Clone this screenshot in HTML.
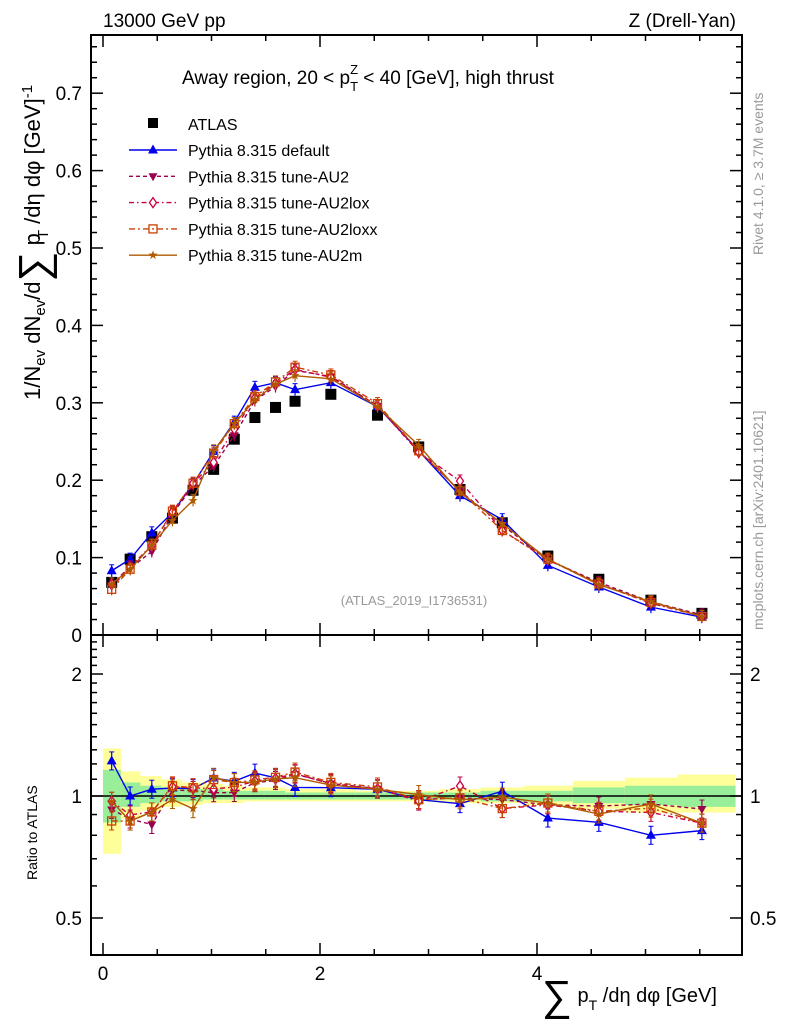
<!DOCTYPE html>
<html><head><meta charset="utf-8"><style>
body{margin:0;background:#fff}
svg{font-family:"Liberation Sans",sans-serif}
</style></head><body>
<svg id="c" width="786" height="1024" viewBox="0 0 786 1024" xmlns="http://www.w3.org/2000/svg">
<g id="bands"></g>
<g id="axes"></g>
<g id="series"></g>
<text x="103" y="27" font-size="19">13000 GeV pp</text>
<text x="736" y="27" font-size="19" text-anchor="end">Z (Drell-Yan)</text>
<text x="182" y="84" font-size="19">Away region, 20 &lt; p<tspan font-size="13" dy="7">T</tspan><tspan font-size="13" dx="-8" dy="-17">Z</tspan><tspan dy="10"> &lt; 40 [GeV], high thrust</tspan></text>
<text x="414" y="605" font-size="13" fill="#999" text-anchor="middle">(ATLAS_2019_I1736531)</text>
<text transform="translate(763,255) rotate(-90)" font-size="14" fill="#999">Rivet 4.1.0, ≥ 3.7M events</text>
<text transform="translate(763,630) rotate(-90)" font-size="14" fill="#999">mcplots.cern.ch [arXiv:2401.10621]</text>
<text transform="translate(40,400) rotate(-90)" font-size="22">1/N<tspan font-size="15" dy="5">ev</tspan><tspan dy="-5"> dN</tspan><tspan font-size="15" dy="5">ev</tspan><tspan dy="-5">/d</tspan><tspan font-size="42" dy="8">∑</tspan><tspan dy="-8"> p</tspan><tspan font-size="15" dy="8" dx="-6">T</tspan><tspan dy="-8"> /dη dφ  [GeV]</tspan><tspan font-size="15" dy="-8">-1</tspan></text>
<text transform="translate(37,880) rotate(-90)" font-size="14">Ratio to ATLAS</text>
<text x="542" y="1002" font-size="20"><tspan font-size="42" dy="8">∑</tspan><tspan dy="-8"> p</tspan><tspan font-size="14" dy="8">T</tspan><tspan dy="-8"> /dη dφ [GeV]</tspan></text>
<g id="legend"></g>
</svg>
<script>
const binEdges=[0.0,0.165,0.345,0.54,0.73,0.92,1.11,1.30,1.49,1.68,1.87,2.33,2.73,3.10,3.48,3.88,4.33,4.81,5.29,5.83];
const xCenters=[0.08,0.25,0.45,0.64,0.83,1.02,1.21,1.40,1.59,1.77,2.10,2.53,2.91,3.29,3.68,4.10,4.57,5.05,5.52];
const atlas=[0.068,0.098,0.127,0.151,0.187,0.214,0.253,0.281,0.294,0.302,0.311,0.284,0.243,0.188,0.145,0.102,0.072,0.045,0.028];
const pyDefault=[0.083,0.098,0.132,0.158,0.195,0.237,0.275,0.320,0.326,0.317,0.326,0.295,0.238,0.180,0.149,0.090,0.062,0.036,0.023];
const pyAU2=[0.063,0.086,0.108,0.156,0.193,0.218,0.258,0.303,0.321,0.342,0.334,0.296,0.238,0.186,0.142,0.097,0.068,0.043,0.026];
const pyAU2lox=[0.066,0.088,0.116,0.159,0.196,0.223,0.266,0.306,0.325,0.343,0.333,0.296,0.236,0.199,0.135,0.097,0.066,0.041,0.024];
const pyAU2loxx=[0.059,0.085,0.116,0.160,0.196,0.235,0.273,0.308,0.327,0.346,0.336,0.299,0.238,0.186,0.135,0.098,0.066,0.042,0.024];
const pyAU2m=[0.066,0.085,0.116,0.148,0.174,0.238,0.273,0.304,0.324,0.335,0.331,0.295,0.245,0.184,0.144,0.098,0.065,0.043,0.024];
const yellowHi=[1.31,1.15,1.12,1.10,1.08,1.07,1.06,1.05,1.05,1.04,1.04,1.03,1.03,1.04,1.05,1.06,1.09,1.11,1.13];
const yellowLo=[0.72,0.88,0.92,0.94,0.95,0.96,0.96,0.97,0.97,0.97,0.97,0.97,0.97,0.96,0.96,0.95,0.93,0.91,0.91];
const greenHi=[1.16,1.08,1.06,1.05,1.04,1.04,1.03,1.03,1.03,1.02,1.02,1.02,1.02,1.02,1.03,1.03,1.05,1.06,1.06];
const greenLo=[0.86,0.94,0.96,0.97,0.97,0.98,0.98,0.98,0.98,0.98,0.98,0.98,0.98,0.98,0.97,0.97,0.96,0.95,0.94];
const xTicks=["0","2","4"];
const yTicks=["0","0.1","0.2","0.3","0.4","0.5","0.6","0.7"];
const rTicks=["0.5","1","2"];

const NS="http://www.w3.org/2000/svg";
const L=91,R=742,T=35,MB=635,RB=955;
const X=v=>103+v*108.5;
const Y=v=>MB-v*774;
const RY=v=>796-Math.log2(v)*122;
function mk(p,tag,at){const e=document.createElementNS(NS,tag);for(const k in at)e.setAttribute(k,at[k]);p.appendChild(e);return e;}
const bands=document.getElementById('bands'),axes=document.getElementById('axes'),ser=document.getElementById('series'),leg=document.getElementById('legend');

for(let i=0;i<xCenters.length;i++){
 const x0=X(binEdges[i]),x1=X(binEdges[i+1]);
 let r=mk(bands,'rect',{x:x0,y:RY(yellowHi[i]),width:x1-x0,height:RY(yellowLo[i])-RY(yellowHi[i]),fill:'#ffff99'});
 
 
 r=mk(bands,'rect',{x:x0,y:RY(greenHi[i]),width:x1-x0,height:RY(greenLo[i])-RY(greenHi[i]),fill:'#99ee99'});
 
 
}
mk(axes,'rect',{x:L,y:T,width:R-L,height:MB-T,fill:'none',stroke:'#000','stroke-width':2});
mk(axes,'rect',{x:L,y:MB,width:R-L,height:RB-MB,fill:'none',stroke:'#000','stroke-width':2});
mk(axes,'line',{x1:L,x2:R,y1:796,y2:796,stroke:'#000','stroke-width':1.5});
for(let v=0;v<=5.5;v+=0.5){const major=Math.abs(v%2)<1e-6;const x=X(v);
 mk(axes,'line',{x1:x,x2:x,y1:MB,y2:MB-(major?12:6),stroke:'#000','stroke-width':1.5});
 mk(axes,'line',{x1:x,x2:x,y1:RB,y2:RB-(major?12:6),stroke:'#000','stroke-width':1.5});
 mk(axes,'line',{x1:x,x2:x,y1:T,y2:T+(major?12:6),stroke:'#000','stroke-width':1.5});
 mk(axes,'line',{x1:x,x2:x,y1:MB,y2:MB+(major?12:6),stroke:'#000','stroke-width':1.5});
}
xTicks.forEach((t,i)=>{const e=mk(axes,'text',{x:X(+t),y:980,'font-size':19,'text-anchor':'middle'});e.textContent=t;
 
 });
for(let k=0;k<=38;k++){const v=k*0.02,y=Y(v);if(y<T)break;const major=k%5==0;
 mk(axes,'line',{x1:L,x2:L+(major?12:6),y1:y,y2:y,stroke:'#000','stroke-width':1.5});
 mk(axes,'line',{x1:R,x2:R-(major?12:6),y1:y,y2:y,stroke:'#000','stroke-width':1.5});}
yTicks.forEach(t=>{const e=mk(axes,'text',{x:82,y:Y(+t)+7,'font-size':19,'text-anchor':'end'});e.textContent=t;
 
 });
for(let k=5;k<=25;k++){const v=k/10,y=RY(v);const major=(k==5||k==10||k==20);
 mk(axes,'line',{x1:L,x2:L+(major?12:6),y1:y,y2:y,stroke:'#000','stroke-width':1.5});
 mk(axes,'line',{x1:R,x2:R-(major?12:6),y1:y,y2:y,stroke:'#000','stroke-width':1.5});}
rTicks.forEach(t=>{for(const [xx,an] of [[82,'end'],[750,'start']]){const e=mk(axes,'text',{x:xx,y:RY(+t)+7,'font-size':19,'text-anchor':an});e.textContent=t;
 
 }});

function marker(g,type,x,y,c){
 const s=5.5;
 if(type=='sq')return mk(g,'rect',{x:x-s,y:y-s,width:2*s,height:2*s,fill:'#000'});
 if(type=='tri')return mk(g,'polygon',{points:`${x},${y-5.5} ${x-5},${y+3.5} ${x+5},${y+3.5}`,fill:c});
 if(type=='itri')return mk(g,'polygon',{points:`${x},${y+5} ${x-4.5},${y-3} ${x+4.5},${y-3}`,fill:c});
 if(type=='dia')return mk(g,'polygon',{points:`${x},${y-5} ${x+3.5},${y} ${x},${y+5} ${x-3.5},${y}`,fill:'#fff',stroke:c,'stroke-width':1.3});
 if(type=='osq')return mk(g,'rect',{x:x-4,y:y-4,width:8,height:8,fill:'none',stroke:c,'stroke-width':1.3});
 if(type=='star')return mk(g,'text',{x:x,y:y+4,'font-size':12,'text-anchor':'middle',fill:c}).textContent='★';
}
const defs=[
 {name:'Pythia 8.315 default',d:pyDefault,c:'#0000ee',dash:'',m:'tri',key:'default'},
 {name:'Pythia 8.315 tune-AU2',d:pyAU2,c:'#990050',dash:'4,3',m:'itri',key:'au2'},
 {name:'Pythia 8.315 tune-AU2lox',d:pyAU2lox,c:'#cc0040',dash:'5,3,1.5,3',m:'dia',key:'au2lox'},
 {name:'Pythia 8.315 tune-AU2loxx',d:pyAU2loxx,c:'#cc4000',dash:'6,3,2,3',m:'osq',key:'au2loxx'},
 {name:'Pythia 8.315 tune-AU2m',d:pyAU2m,c:'#b05a00',dash:'',m:'star',key:'au2m'}];
const ga=mk(ser,'g',{});


atlas.forEach((v,i)=>{const p=marker(ga,'sq',X(xCenters[i]),Y(v));
 
 });
defs.forEach(s=>{
 const g=mk(ser,'g',{});
 
 
 const pm=s.d.map((v,i)=>X(xCenters[i])+','+Y(v)).join(' ');
 const pr=s.d.map((v,i)=>X(xCenters[i])+','+RY(v/atlas[i])).join(' ');
 const l1=mk(g,'polyline',{points:pm,fill:'none',stroke:s.c,'stroke-width':1.4,'stroke-dasharray':s.dash});
 
 
 const l2=mk(g,'polyline',{points:pr,fill:'none',stroke:s.c,'stroke-width':1.4,'stroke-dasharray':s.dash});
 
 
 s.d.forEach((v,i)=>{const x=X(xCenters[i]);
  const y=Y(v);mk(g,'line',{x1:x,x2:x,y1:y-6,y2:y+6,stroke:s.c,'stroke-width':1.2});
  mk(g,'line',{x1:x-2.5,x2:x+2.5,y1:y-6,y2:y-6,stroke:s.c});
  const ry=RY(v/atlas[i]);mk(g,'line',{x1:x,x2:x,y1:ry-9,y2:ry+9,stroke:s.c,'stroke-width':1.2});
  mk(g,'line',{x1:x-2.5,x2:x+2.5,y1:ry-9,y2:ry-9,stroke:s.c});mk(g,'line',{x1:x-2.5,x2:x+2.5,y1:ry+9,y2:ry+9,stroke:s.c});
  const a=marker(g,s.m,x,y,s.c);
  if(a&&a.setAttribute){
  }
  const b=marker(g,s.m,x,ry,s.c);
  if(b&&b.setAttribute){
  }
 });
});
{const e=mk(leg,'rect',{x:148,y:118,width:10,height:10,fill:'#000'});
 const t=mk(leg,'text',{x:188,y:130,'font-size':16});t.textContent='ATLAS';
 
 }
defs.forEach((s,i)=>{const y=150+i*26.3;
 mk(leg,'line',{x1:129,x2:177,y1:y,y2:y,stroke:s.c,'stroke-width':1.4,'stroke-dasharray':s.dash});
 marker(leg,s.m,153,y,s.c);
 const t=mk(leg,'text',{x:188,y:y+6,'font-size':16});t.textContent=s.name;
 
 });
</script>
</body></html>
